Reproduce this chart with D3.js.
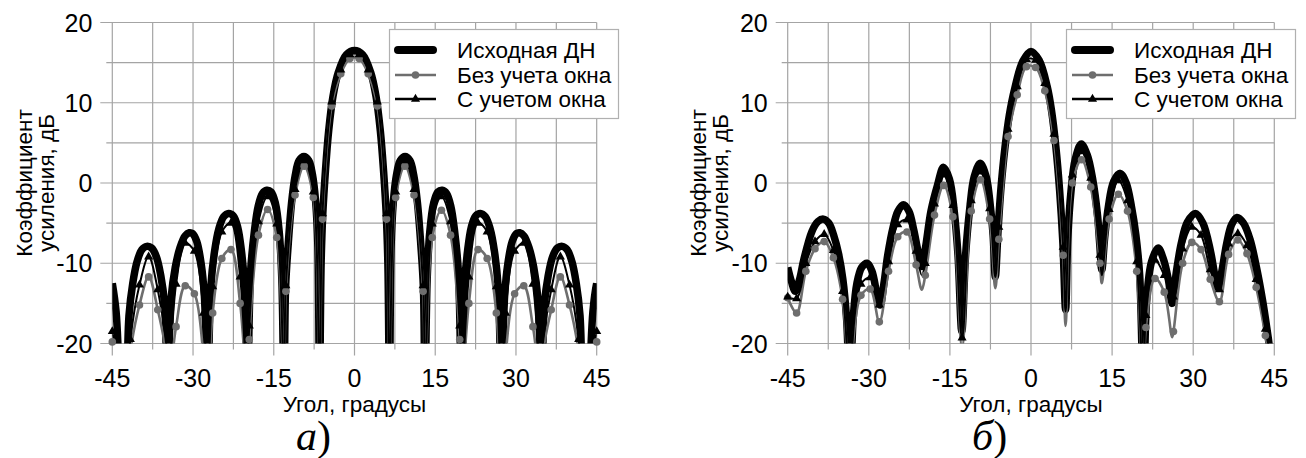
<!DOCTYPE html>
<html>
<head>
<meta charset="utf-8">
<script src="https://cdn.jsdelivr.net/npm/d3@7/dist/d3.min.js"></script>
<style>
	body { margin: 0; background: #ffffff; }
	svg { display: block; }
	.text_class_tick { font-family: "Liberation Sans", Arial, sans-serif; font-size: 25px; fill: #000; }
	.text_class_title { font-family: "Liberation Sans", Arial, sans-serif; font-size: 22.5px; fill: #000; }
	.text_class_legend { font-family: "Liberation Sans", Arial, sans-serif; font-size: 22.5px; fill: #000; }
	.text_class_panel { font-family: "Liberation Serif", "Times New Roman", serif; font-size: 42px; fill: #000; }
</style>
</head>
<body>
<div id="div_id_main"></div>
<script>

// ---------------------------------------------------------------
// axis ticks / labels

var vTickX_Major = [-45, -30, -15, 0, 15, 30, 45];
var vTickY_Major = [-20, -10, 0, 10, 20];
var vGridX = [-45, -37.5, -30, -22.5, -15, -7.5, 0, 7.5, 15, 22.5, 30, 37.5, 45];
var vGridY = [-20, -15, -10, -5, 0, 5, 10, 15, 20];

var vsLegend = ["Исходная ДН", "Без учета окна", "С учетом окна"];
var sTitleX = "Угол, градусы";
var vsTitleY = ["Коэффициент", "усиления, дБ"];

// angles where the two computed patterns were sampled (markers)
var vAngleGrid = [-45, -43.35, -41.65, -39.95, -38.25, -36.55, -34.85, -33.15, -31.45, -29.75,
				  -28.05, -26.35, -24.65, -22.95, -21.25, -19.55, -17.85, -16.15, -14.45, -12.75,
				  -11.05, -9.35, -7.65, -5.95, -4.25, -2.55, -0.85, 0.85, 2.55, 4.25,
				  5.95, 7.65, 9.35, 11.05, 12.75, 14.45, 16.15, 17.85, 19.55, 21.25,
				  22.95, 24.65, 26.35, 28.05, 29.75, 31.45, 33.15, 34.85, 36.55, 38.25,
				  39.95, 41.65, 43.35, 45];

// ---------------------------------------------------------------
// chart а) : original pattern [angle, dB]

var dsOrig_A = [[-45,-12.5],[-44.3,-16],[-43.7,-24],[-43.1,-30],[-42.4,-26],[-41.9,-16.5],[-41.2,-12.5],[-40.4,-9.8],
	[-39.5,-8.3],[-38.6,-7.9],[-37.7,-8.1],[-36.8,-9.2],[-36.0,-11.5],[-35.3,-15],[-34.7,-26],[-34.1,-14.5],
	[-33.3,-10.5],[-32.4,-8.0],[-31.5,-6.6],[-30.7,-6.2],[-30.1,-6.3],[-29.3,-7.3],[-28.5,-10],[-27.9,-14],
	[-27.3,-26],[-26.7,-13],[-26.0,-8.5],[-25.2,-5.7],[-24.3,-4.2],[-23.4,-3.8],[-22.5,-4.1],[-21.7,-5.5],
	[-21.0,-8.5],[-20.4,-13],[-19.9,-26],[-19.3,-11],[-18.6,-6],[-17.9,-2.9],[-17.1,-1.3],[-16.3,-0.9],
	[-15.5,-1.1],[-14.7,-2.5],[-14.0,-6.0],[-13.5,-12],[-13.1,-26],[-12.8,-13],[-12.3,-7.5],[-11.7,-2.5],
	[-11.0,1.0],[-10.3,2.8],[-9.4,3.3],[-8.5,2.8],[-7.8,1.0],[-7.2,-2.5],[-6.8,-8],[-6.5,-26],
	[-6.2,-10],[-5.9,-4],[-5.4,1.5],[-4.8,6.5],[-4.0,10.8],[-3.0,13.8],[-1.5,16.0],[0,16.5],
	[1.5,16.0],[3.0,13.8],[4.0,10.8],[4.8,6.5],[5.4,1.5],[5.9,-4],[6.2,-10],[6.5,-26],
	[6.8,-8],[7.2,-2.5],[7.8,1.0],[8.5,2.8],[9.4,3.3],[10.3,2.8],[11.0,1.0],[11.7,-2.5],
	[12.3,-7.5],[12.8,-13],[13.1,-26],[13.5,-12],[14.0,-6.0],[14.7,-2.5],[15.5,-1.1],[16.3,-0.9],
	[17.1,-1.3],[17.9,-2.9],[18.6,-6],[19.3,-11],[19.9,-26],[20.4,-13],[21.0,-8.5],[21.7,-5.5],
	[22.5,-4.1],[23.4,-3.8],[24.3,-4.2],[25.2,-5.7],[26.0,-8.5],[26.7,-13],[27.3,-26],[27.9,-14],
	[28.5,-10],[29.3,-7.3],[30.1,-6.3],[30.7,-6.2],[31.5,-6.6],[32.4,-8.0],[33.3,-10.5],[34.1,-14.5],
	[34.7,-26],[35.3,-15],[36.0,-11.5],[36.8,-9.2],[37.7,-8.1],[38.6,-7.9],[39.5,-8.3],[40.4,-9.8],
	[41.2,-12.5],[41.9,-16.5],[42.4,-26],[43.1,-30],[43.7,-24],[44.3,-16],[45,-12.5]];

// chart а) : without window, values on vAngleGrid
var vNoWin_A = [-19.8, -25, -21, -15.2, -11.7, -15.8, -22, -17.9, -12.8, -13.8,
				-21.5, -16.2, -9.4, -8.3, -15.0, -19.5, -6.5, -3.3, -6.8, -13.5,
				-1.5, 2.1, -1.8, -4.5, 9.6, 13.6, 15.5, 15.5, 13.6, 9.6,
				-4.5, -1.8, 2.1, -1.5, -13.5, -6.8, -3.4, -6.5, -19.5, -15.0,
				-8.3, -9.4, -16.2, -21.5, -13.8, -12.8, -17.9, -22, -15.8, -11.7,
				-15.2, -21, -25, -19.8];
var dsNoWinNull_A = [[-42.4,-26],[-34.7,-26],[-27.3,-26],[-19.9,-26],[-13.1,-26],[-6.5,-26],
					 [6.5,-26],[13.1,-26],[19.9,-26],[27.3,-26],[34.7,-26],[42.4,-26]];

// chart а) : with window, values on vAngleGrid
var vWin_A = [-18.5, -24, -19.5, -12.7, -9.2, -13.3, -21, -12.6, -7.5, -8.5,
			  -16.2, -12.9, -6.1, -5.0, -11.7, -17.8, -4.8, -1.7, -5.1, -12.8,
			  -0.8, 2.8, -1.1, -3.8, 10.1, 14.1, 16.0, 16.0, 14.1, 10.1,
			  -3.8, -1.1, 2.8, -0.8, -12.8, -5.1, -1.7, -4.8, -17.8, -11.7,
			  -5.0, -6.1, -12.9, -16.2, -8.5, -7.5, -12.6, -21, -13.3, -9.2,
			  -12.7, -19.5, -24, -18.5];
var dsWinNull_A = [[-42.4,-26],[-34.7,-26],[-27.3,-26],[-19.9,-26],[-13.1,-26],[-6.5,-26],
				   [6.5,-26],[13.1,-26],[19.9,-26],[27.3,-26],[34.7,-26],[42.4,-26]];

// ---------------------------------------------------------------
// chart б) : original pattern [angle, dB]

var dsOrig_B = [[-45,-10.5],[-44.3,-12.3],[-43.6,-13.5],[-42.8,-12.0],[-42.0,-9.5],[-40.5,-6.0],[-39.4,-4.8],[-38.4,-4.5],
	[-37.4,-5.0],[-36.5,-6.5],[-35.6,-8.8],[-34.8,-12.0],[-34.1,-17.0],[-33.5,-26],[-32.9,-17.0],[-32.2,-12.5],
	[-31.3,-10.5],[-30.3,-10.0],[-29.4,-11.0],[-28.6,-13.5],[-27.9,-15.2],[-27.2,-12.5],[-26.5,-9.0],[-25.5,-5.5],
	[-24.6,-3.5],[-23.6,-2.7],[-22.6,-3.5],[-21.7,-5.8],[-20.9,-8.5],[-20.2,-10.4],[-19.5,-8.0],[-18.5,-3.5],
	[-17.3,-0.3],[-16.2,1.95],[-15.1,0.5],[-14.2,-3.5],[-13.5,-9.0],[-12.8,-18.5],[-12.1,-9.0],[-11.3,-3.0],
	[-10.5,0.8],[-9.4,2.45],[-8.3,0.8],[-7.5,-3.0],[-7.0,-6.5],[-6.6,-11.7],[-6.1,-6.0],[-5.6,-1.0],
	[-4.8,4.5],[-4.0,8.5],[-3.0,11.8],[-1.5,15.2],[0,16.4],[1.5,15.3],[3.0,12.0],[3.8,9.0],
	[4.6,4.5],[5.3,-1.0],[5.9,-7.5],[6.4,-15.8],[6.8,-7.0],[7.4,-1.0],[8.2,3.0],[9.3,4.85],
	[10.4,3.5],[11.4,0.5],[12.3,-4.0],[12.7,-7.5],[13.1,-10.8],[13.6,-7.0],[14.3,-3.0],[15.3,0.2],
	[16.5,1.2],[17.6,0.0],[18.6,-3.0],[19.4,-6.5],[20.1,-11.5],[20.8,-26],[21.4,-14.5],[22.3,-9.8],
	[23.5,-8.1],[24.5,-9.5],[25.4,-12.0],[26.1,-15.0],[26.9,-11.0],[27.8,-7.5],[28.9,-4.9],[30.4,-3.8],
	[31.8,-5.0],[33.2,-8.5],[34.0,-11.5],[34.6,-13.1],[35.3,-11.0],[36.2,-7.5],[37.1,-5.2],[38.1,-4.3],
	[39.3,-5.0],[40.5,-7.0],[41.7,-10.5],[42.8,-14.5],[43.6,-18.0],[44.1,-20.5],[45,-30]];

// chart б) : without window, values on vAngleGrid
var vNoWin_B = [-14.3, -16.2, -11.0, -8.2, -7.3, -9.3, -14.5, -22, -14.0, -13.2,
				-17.3, -11.0, -6.7, -6.1, -10.2, -11.5, -4.0, -0.3, -4.2, -20.5,
				-3.5, 0.4, -4.5, -7.0, 5.8, 11.0, 14.5, 14.4, 11.5, 5.3,
				-9.0, 0.0, 2.9, -0.5, -10.0, -4.5, -1.4, -3.5, -11.0, -18.0,
				-11.9, -13.6, -18.5, -10.0, -7.4, -8.3, -12.0, -14.8, -8.9, -7.1,
				-8.8, -13.0, -19.0, -28];
var dsNoWinNull_B = [[-33.5,-26],[-20.2,-13.3],[-6.6,-13.1],[6.4,-17.8],[13.1,-12.5],[20.8,-26],[26.1,-19.2],[44.1,-22]];

// chart б) : with window, values on vAngleGrid
var vWin_B = [-14.2, -14.4, -10.0, -7.3, -6.4, -8.4, -13.5, -21, -12.6, -11.8,
			  -15.2, -9.8, -5.2, -4.6, -8.5, -10.0, -2.6, 1.0, -2.8, -19.3,
			  -2.2, 1.4, -3.2, -5.5, 6.7, 12.0, 15.4, 15.3, 12.4, 6.1,
			  -8.0, 1.0, 3.9, 0.6, -9.0, -3.3, 0.3, -2.2, -9.8, -16.5,
			  -9.6, -11.5, -14.2, -8.2, -5.5, -6.5, -10.8, -13.3, -7.6, -6.3,
			  -7.8, -12.0, -18.2, -27];
var dsWinNull_B = [[-33.5,-26],[-20.2,-11.5],[-6.6,-11.7],[6.4,-16.0],[13.1,-11.5],[20.8,-26],[44.1,-21]];

// ---------------------------------------------------------------

var SVG_WIDTH = 1306;
var SVG_HEIGHT = 458;
var PLOT_TOP = 22.5;
var PLOT_BOTTOM = 343.5;

var COLOR_GRID = "#a4a4a4";
var COLOR_NOWIN = "#6e6e6e";

function funcDraw_Main() {

	let svgMain = d3.select("#div_id_main")
					.append("svg")
						.attr("id", "svg_id_main")
						.attr("width", SVG_WIDTH)
						.attr("height", SVG_HEIGHT);

	svgMain.append("rect")
				.attr("width", SVG_WIDTH)
				.attr("height", SVG_HEIGHT)
				.attr("fill", "#ffffff");

	funcDraw_Chart(svgMain, {
		"id": "a", "x0": 112.3, "x1": 596.7,
		"orig": dsOrig_A, "nowin": vNoWin_A, "nowin_null": dsNoWinNull_A,
		"win": vWin_A, "win_null": dsWinNull_A,
		"legend_x": 389, "title_y_x": [32, 54], "panel_x": 296, "panel_letter": "а"
	});

	funcDraw_Chart(svgMain, {
		"id": "b", "x0": 787.7, "x1": 1274.3,
		"orig": dsOrig_B, "nowin": vNoWin_B, "nowin_null": dsNoWinNull_B,
		"win": vWin_B, "win_null": dsWinNull_B,
		"legend_x": 1066, "title_y_x": [706, 728], "panel_x": 972, "panel_letter": "б"
	});
}

function funcMerge_Series(vValues, dsExtra) {

	let dsPoints = [];

	for (let i = 0; i < vAngleGrid.length; i++)
		dsPoints.push([vAngleGrid[i], vValues[i]]);

	for (let i = 0; i < dsExtra.length; i++)
		dsPoints.push(dsExtra[i]);

	dsPoints.sort(function (a, b) { return a[0] - b[0]; });

	return dsPoints;
}

function funcDraw_Chart(svgMain, oChart) {

	let fScaleX = d3.scaleLinear()
						.domain([-45, 45])
						.range([oChart.x0, oChart.x1]);

	let fScaleY = d3.scaleLinear()
						.domain([-20, 20])
						.range([PLOT_BOTTOM, PLOT_TOP]);

	let gChart = svgMain.append("g")
						.attr("id", "g_id_chart_" + oChart.id);

	// clip for the curves
	gChart.append("clipPath")
				.attr("id", "clip_id_" + oChart.id)
				.append("rect")
					.attr("x", oChart.x0)
					.attr("y", PLOT_TOP)
					.attr("width", oChart.x1 - oChart.x0)
					.attr("height", PLOT_BOTTOM - PLOT_TOP);

	// ---------------------------------------------------------------
	// grid + ticks

	gChart.selectAll("line.line_class_grid_x")
				.data(vGridX)
				.enter()
				.append("line")
					.attr("class", "line_class_grid_x")
					.attr("x1", function (d) { return fScaleX(d); })
					.attr("x2", function (d) { return fScaleX(d); })
					.attr("y1", PLOT_TOP)
					.attr("y2", function (d) { return PLOT_BOTTOM + ((vTickX_Major.indexOf(d) >= 0) ? 12 : 6); })
					.attr("stroke", COLOR_GRID)
					.attr("stroke-width", 1.2);

	gChart.selectAll("line.line_class_grid_y")
				.data(vGridY)
				.enter()
				.append("line")
					.attr("class", "line_class_grid_y")
					.attr("x1", function (d) { return oChart.x0 - ((vTickY_Major.indexOf(d) >= 0) ? 12 : 6); })
					.attr("x2", oChart.x1)
					.attr("y1", function (d) { return fScaleY(d); })
					.attr("y2", function (d) { return fScaleY(d); })
					.attr("stroke", COLOR_GRID)
					.attr("stroke-width", 1.2);

	gChart.selectAll("text.text_class_tick_x")
				.data(vTickX_Major)
				.enter()
				.append("text")
					.attr("class", "text_class_tick text_class_tick_x")
					.attr("x", function (d) { return fScaleX(d); })
					.attr("y", 387)
					.attr("text-anchor", "middle")
					.text(function (d) { return String(d); });

	gChart.selectAll("text.text_class_tick_y")
				.data(vTickY_Major)
				.enter()
				.append("text")
					.attr("class", "text_class_tick text_class_tick_y")
					.attr("x", oChart.x0 - 20)
					.attr("y", function (d) { return fScaleY(d) + 9; })
					.attr("text-anchor", "end")
					.text(function (d) { return String(d); });

	// ---------------------------------------------------------------
	// axis titles

	gChart.append("text")
				.attr("class", "text_class_title")
				.attr("x", (oChart.x0 + oChart.x1) / 2)
				.attr("y", 412)
				.attr("text-anchor", "middle")
				.text(sTitleX);

	for (let i = 0; i < vsTitleY.length; i++) {

		gChart.append("text")
					.attr("class", "text_class_title")
					.attr("text-anchor", "middle")
					.attr("transform", "translate(" + oChart.title_y_x[i] + "," + ((PLOT_TOP + PLOT_BOTTOM) / 2) + ") rotate(-90)")
					.text(vsTitleY[i]);
	}

	let textPanel = gChart.append("text")
				.attr("class", "text_class_panel")
				.attr("x", oChart.panel_x)
				.attr("y", 450);

	textPanel.append("tspan")
				.attr("font-style", "italic")
				.text(oChart.panel_letter);

	textPanel.append("tspan")
				.text(")");

	// ---------------------------------------------------------------
	// curves

	let lineSmooth = d3.line()
						.x(function (d) { return fScaleX(d[0]); })
						.y(function (d) { return fScaleY(d[1]); })
						.curve(d3.curveCatmullRom.alpha(0.5));

	let gCurves = gChart.append("g")
						.attr("clip-path", "url(#clip_id_" + oChart.id + ")");

	gCurves.append("path")
				.attr("d", lineSmooth(oChart.orig))
				.attr("fill", "none")
				.attr("stroke", "#000000")
				.attr("stroke-width", 7.5)
				.attr("stroke-linejoin", "round");

	gCurves.append("path")
				.attr("d", lineSmooth(funcMerge_Series(oChart.nowin, oChart.nowin_null)))
				.attr("fill", "none")
				.attr("stroke", COLOR_NOWIN)
				.attr("stroke-width", 2.6)
				.attr("stroke-linejoin", "round");

	let dsNoWinMarks = [];
	let dsWinMarks = [];

	for (let i = 0; i < vAngleGrid.length; i++) {

		if (oChart.nowin[i] >= -20.3)
			dsNoWinMarks.push([vAngleGrid[i], Math.max(oChart.nowin[i], -20)]);

		if (oChart.win[i] >= -20.3)
			dsWinMarks.push([vAngleGrid[i], Math.max(oChart.win[i], -20)]);
	}

	gChart.selectAll("circle.circle_class_nowin")
				.data(dsNoWinMarks)
				.enter()
				.append("circle")
					.attr("class", "circle_class_nowin")
					.attr("cx", function (d) { return fScaleX(d[0]); })
					.attr("cy", function (d) { return fScaleY(d[1]); })
					.attr("r", 3.8)
					.attr("fill", COLOR_NOWIN);

	gCurves.append("path")
				.attr("d", lineSmooth(funcMerge_Series(oChart.win, oChart.win_null)))
				.attr("fill", "none")
				.attr("stroke", "#000000")
				.attr("stroke-width", 2)
				.attr("stroke-linejoin", "round");

	let symTriangle = d3.symbol().type(d3.symbolTriangle).size(36);

	gChart.selectAll("path.path_class_win")
				.data(dsWinMarks)
				.enter()
				.append("path")
					.attr("class", "path_class_win")
					.attr("d", symTriangle)
					.attr("transform", function (d) { return "translate(" + fScaleX(d[0]) + "," + fScaleY(d[1]) + ")"; })
					.attr("fill", "#000000");

	// ---------------------------------------------------------------
	// legend

	funcDraw_Legend(gChart, oChart.legend_x, 29, symTriangle);
}

function funcDraw_Legend(gChart, nX, nY, symTriangle) {

	let gLegend = gChart.append("g")
						.attr("transform", "translate(" + nX + "," + nY + ")");

	gLegend.append("rect")
				.attr("x", 0.5)
				.attr("y", 0.5)
				.attr("width", 229)
				.attr("height", 89)
				.attr("fill", "#ffffff")
				.attr("stroke", "#b0b0b0")
				.attr("stroke-width", 1.2);

	let vRowY = [21, 46, 70];

	// original
	gLegend.append("line")
				.attr("x1", 9).attr("x2", 44)
				.attr("y1", vRowY[0]).attr("y2", vRowY[0])
				.attr("stroke", "#000000")
				.attr("stroke-width", 8)
				.attr("stroke-linecap", "round");

	// without window
	gLegend.append("line")
				.attr("x1", 6).attr("x2", 47)
				.attr("y1", vRowY[1]).attr("y2", vRowY[1])
				.attr("stroke", COLOR_NOWIN)
				.attr("stroke-width", 2.6);

	gLegend.append("circle")
				.attr("cx", 26.5)
				.attr("cy", vRowY[1])
				.attr("r", 3.8)
				.attr("fill", COLOR_NOWIN);

	// with window
	gLegend.append("line")
				.attr("x1", 6).attr("x2", 47)
				.attr("y1", vRowY[2]).attr("y2", vRowY[2])
				.attr("stroke", "#000000")
				.attr("stroke-width", 2.4);

	gLegend.append("path")
				.attr("d", symTriangle)
				.attr("transform", "translate(26.5," + vRowY[2] + ")")
				.attr("fill", "#000000");

	for (let i = 0; i < vsLegend.length; i++) {

		gLegend.append("text")
					.attr("class", "text_class_legend")
					.attr("x", 68)
					.attr("y", vRowY[i] + 8)
					.text(vsLegend[i]);
	}
}

funcDraw_Main();

</script>
</body>
</html>
